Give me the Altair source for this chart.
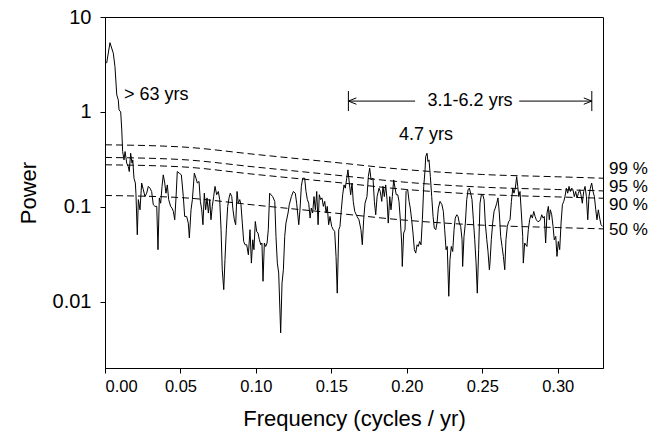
import altair as alt
import pandas as pd

# ---- periodogram (frequency in cycles/yr, power) ----
freq = [
    0.0011, 0.0033, 0.0055, 0.0066, 0.0078, 0.0088, 0.0093, 0.0104, 0.0111, 0.0117,
    0.0126, 0.0133, 0.0144, 0.0154, 0.0161, 0.0170, 0.0179, 0.0184, 0.0192, 0.0201,
    0.0205, 0.0214, 0.0221, 0.0232, 0.0243, 0.0254, 0.0265, 0.0276, 0.0287, 0.0298,
    0.0309, 0.0320, 0.0331, 0.0343, 0.0351, 0.0360, 0.0369, 0.0378, 0.0386, 0.0396,
    0.0404, 0.0413, 0.0422, 0.0435, 0.0444, 0.0453, 0.0462, 0.0471, 0.0479, 0.0492,
    0.0506, 0.0519, 0.0528, 0.0541, 0.0552, 0.0559, 0.0570, 0.0579, 0.0592, 0.0603,
    0.0612, 0.0623, 0.0632, 0.0641, 0.0649, 0.0658, 0.0667, 0.0676, 0.0685, 0.0694,
    0.0702, 0.0711, 0.0720, 0.0729, 0.0740, 0.0751, 0.0760, 0.0769, 0.0777, 0.0787,
    0.0795, 0.0804, 0.0813, 0.0822, 0.0830, 0.0840, 0.0848, 0.0857, 0.0866, 0.0875,
    0.0883, 0.0893, 0.0901, 0.0910, 0.0919, 0.0928, 0.0939, 0.0950, 0.0961, 0.0970,
    0.0979, 0.0987, 0.0996, 0.1005, 0.1014, 0.1023, 0.1032, 0.1040, 0.1047, 0.1056,
    0.1065, 0.1074, 0.1082, 0.1091, 0.1111, 0.1125, 0.1133, 0.1142, 0.1151, 0.1164,
    0.1173, 0.1182, 0.1191, 0.1199, 0.1213, 0.1221, 0.1235, 0.1248, 0.1261, 0.1270,
    0.1284, 0.1292, 0.1301, 0.1310, 0.1323, 0.1332, 0.1341, 0.1350, 0.1359, 0.1367,
    0.1376, 0.1385, 0.1394, 0.1403, 0.1412, 0.1420, 0.1429, 0.1438, 0.1447, 0.1456,
    0.1465, 0.1473, 0.1482, 0.1491, 0.1502, 0.1513, 0.1522, 0.1531, 0.1539, 0.1549,
    0.1557, 0.1566, 0.1575, 0.1584, 0.1592, 0.1602, 0.1610, 0.1619, 0.1628, 0.1637,
    0.1645, 0.1655, 0.1670, 0.1683, 0.1696, 0.1705, 0.1714, 0.1723, 0.1736, 0.1745,
    0.1754, 0.1763, 0.1776, 0.1785, 0.1794, 0.1803, 0.1816, 0.1824, 0.1834, 0.1842,
    0.1851, 0.1860, 0.1869, 0.1877, 0.1887, 0.1895, 0.1904, 0.1913, 0.1922, 0.1930,
    0.1940, 0.1948, 0.1957, 0.1966, 0.1970, 0.1979, 0.1988, 0.1995, 0.2006, 0.2015,
    0.2023, 0.2032, 0.2041, 0.2050, 0.2059, 0.2068, 0.2076, 0.2085, 0.2094, 0.2103,
    0.2112, 0.2121, 0.2125, 0.2134, 0.2140, 0.2147, 0.2156, 0.2165, 0.2174, 0.2182,
    0.2192, 0.2200, 0.2209, 0.2220, 0.2233, 0.2242, 0.2251, 0.2260, 0.2268, 0.2278,
    0.2286, 0.2295, 0.2304, 0.2313, 0.2321, 0.2331, 0.2339, 0.2348, 0.2357, 0.2366,
    0.2370, 0.2379, 0.2388, 0.2397, 0.2406, 0.2414, 0.2423, 0.2432, 0.2441, 0.2450,
    0.2459, 0.2467, 0.2476, 0.2485, 0.2494, 0.2503, 0.2512, 0.2520, 0.2530, 0.2538,
    0.2547, 0.2551, 0.2560, 0.2569, 0.2578, 0.2586, 0.2596, 0.2604, 0.2613, 0.2622,
    0.2631, 0.2640, 0.2649, 0.2657, 0.2666, 0.2675, 0.2684, 0.2693, 0.2702, 0.2710,
    0.2719, 0.2728, 0.2735, 0.2742, 0.2750, 0.2759, 0.2768, 0.2772, 0.2781, 0.2796,
    0.2805, 0.2814, 0.2823, 0.2832, 0.2841, 0.2850, 0.2858, 0.2867, 0.2876, 0.2885,
    0.2894, 0.2903, 0.2911, 0.2920, 0.2929, 0.2938, 0.2944, 0.2951, 0.2960, 0.2969,
    0.2977, 0.2987, 0.2995, 0.3004, 0.3013, 0.3022, 0.3031, 0.3040, 0.3048, 0.3057,
    0.3066, 0.3075, 0.3084, 0.3093, 0.3101, 0.3110, 0.3119, 0.3128, 0.3137, 0.3146,
    0.3154, 0.3163, 0.3172, 0.3181, 0.3190, 0.3199, 0.3207, 0.3216, 0.3225, 0.3234,
    0.3243, 0.3252, 0.3260, 0.3269, 0.3278, 0.3287, 0.3297,
]
power = [
    3.26, 5.36, 4.15, 3.00, 1.51, 1.34, 1.05, 1.00, 0.647, 0.382,
    0.312, 0.382, 0.288, 0.266, 0.235, 0.367, 0.288, 0.312, 0.200, 0.178,
    0.139, 0.0507, 0.119, 0.0929, 0.178, 0.151, 0.128, 0.139, 0.164, 0.157,
    0.145, 0.105, 0.101, 0.101, 0.0353, 0.124, 0.109, 0.164, 0.217, 0.178,
    0.139, 0.170, 0.119, 0.101, 0.0968, 0.0893, 0.0730, 0.128, 0.235, 0.226,
    0.217, 0.128, 0.0791, 0.0791, 0.0673, 0.0470, 0.0929, 0.119, 0.226, 0.200,
    0.178, 0.185, 0.114, 0.0929, 0.0647, 0.139, 0.0929, 0.124, 0.0859, 0.119,
    0.0730, 0.101, 0.128, 0.164, 0.134, 0.145, 0.119, 0.0573, 0.0217, 0.0134,
    0.0277, 0.0573, 0.101, 0.124, 0.139, 0.128, 0.0929, 0.0730, 0.0647, 0.145,
    0.109, 0.119, 0.105, 0.0673, 0.0431, 0.0398, 0.0398, 0.0312, 0.0573, 0.0255,
    0.0449, 0.0353, 0.0700, 0.0550, 0.0528, 0.0449, 0.0398, 0.0415, 0.0164, 0.0415,
    0.0382, 0.0415, 0.0573, 0.139, 0.128, 0.114, 0.0487, 0.0255, 0.0200, 0.00469,
    0.0157, 0.0217, 0.0487, 0.0673, 0.0859, 0.105, 0.128, 0.145, 0.139, 0.109,
    0.0647, 0.0929, 0.164, 0.200, 0.200, 0.145, 0.119, 0.109, 0.0760, 0.0968,
    0.0859, 0.128, 0.0929, 0.145, 0.0647, 0.134, 0.119, 0.124, 0.101, 0.114,
    0.0859, 0.101, 0.0647, 0.0791, 0.0621, 0.0573, 0.0550, 0.0300, 0.0123, 0.0573,
    0.0621, 0.0929, 0.134, 0.170, 0.157, 0.200, 0.245, 0.178, 0.134, 0.178,
    0.114, 0.0893, 0.0791, 0.0730, 0.0573, 0.0398, 0.0730, 0.109, 0.128, 0.208,
    0.255, 0.192, 0.200, 0.114, 0.0824, 0.128, 0.157, 0.145, 0.114, 0.164,
    0.128, 0.170, 0.119, 0.0673, 0.128, 0.0929, 0.128, 0.192, 0.157, 0.134,
    0.134, 0.114, 0.0730, 0.0415, 0.0235, 0.0528, 0.0573, 0.145, 0.151, 0.114,
    0.0968, 0.0730, 0.0528, 0.0353, 0.0325, 0.0398, 0.0382, 0.0431, 0.0398, 0.0730,
    0.164, 0.245, 0.338, 0.367, 0.300, 0.312, 0.208, 0.128, 0.0791, 0.0597,
    0.0573, 0.0673, 0.0968, 0.114, 0.105, 0.0893, 0.0573, 0.0353, 0.0382, 0.0114,
    0.0277, 0.0382, 0.0338, 0.0573, 0.0760, 0.0824, 0.0791, 0.0673, 0.0621, 0.0449,
    0.0235, 0.0487, 0.0673, 0.119, 0.151, 0.157, 0.139, 0.119, 0.0730, 0.0449,
    0.0255, 0.0123, 0.0353, 0.109, 0.134, 0.134, 0.119, 0.0673, 0.0449, 0.0338,
    0.0217, 0.0255, 0.0449, 0.0673, 0.0893, 0.0968, 0.109, 0.124, 0.0859, 0.0487,
    0.0382, 0.0300, 0.0217, 0.0449, 0.0621, 0.0700, 0.0730, 0.114, 0.157, 0.139,
    0.157, 0.208, 0.164, 0.128, 0.145, 0.0859, 0.0487, 0.0255, 0.0415, 0.0382,
    0.0573, 0.0730, 0.0824, 0.0760, 0.0893, 0.0791, 0.0730, 0.0700, 0.0700, 0.0730,
    0.0824, 0.0760, 0.0791, 0.0415, 0.0859, 0.101, 0.0730, 0.0929, 0.0824, 0.0621,
    0.0449, 0.0487, 0.0300, 0.0431, 0.0353, 0.0673, 0.105, 0.114, 0.128, 0.157,
    0.139, 0.164, 0.145, 0.157, 0.151, 0.128, 0.145, 0.124, 0.139, 0.151,
    0.134, 0.109, 0.145, 0.164, 0.128, 0.0730, 0.128, 0.157, 0.178, 0.145,
    0.128, 0.0929, 0.0730, 0.0929, 0.0760, 0.0647, 0.0621,
]

# ---- significance levels (dashed curves) ----
ci_freq = [0.00, 0.05, 0.10, 0.15, 0.20, 0.25, 0.30, 0.33]
ci_50 = [0.1315, 0.125, 0.104, 0.0866, 0.072, 0.064, 0.0604, 0.0585]
ci_90 = [0.277, 0.264, 0.219, 0.183, 0.152, 0.135, 0.127, 0.123]
ci_95 = [0.331, 0.315, 0.262, 0.218, 0.181, 0.161, 0.152, 0.147]
ci_99 = [0.450, 0.428, 0.356, 0.296, 0.246, 0.219, 0.207, 0.200]
ci_names = ["50 %", "90 %", "95 %", "99 %"]
ci_label_power = [0.0573, 0.104, 0.160, 0.251]

# ---- annotations ----
peak_text = ["> 63 yrs", "4.7 yrs"]
peak_text_freq = [0.0126, 1 / 4.7]
peak_text_power = [1.51, 0.57]

band_text = "3.1-6.2 yrs"
band_lo, band_hi = 1 / 6.2, 1 / 3.1
band_gap = [0.2055, 0.2745]
band_power = 1.30
band_bar = [1.02, 1.66]

FONT = "Liberation Sans"

spec_df = pd.DataFrame({"f": freq, "p": power})
ci_rows = []
for name, vals in zip(ci_names, [ci_50, ci_90, ci_95, ci_99]):
    for f, v in zip(ci_freq, vals):
        ci_rows.append({"f": f, "p": v, "level": name})
ci_df = pd.DataFrame(ci_rows)
ci_lab_df = pd.DataFrame({"f": [ci_freq[-1]] * 4, "p": ci_label_power, "t": ci_names})

xs = alt.Scale(domain=[0, 0.33], nice=False, zero=False)
ys = alt.Scale(type="log", domain=[0.002, 10], nice=False)

X = alt.X("f:Q", scale=xs, axis=alt.Axis(
    title="Frequency (cycles / yr)", values=[0, 0.05, 0.10, 0.15, 0.20, 0.25, 0.30],
    format=".2f", grid=False, tickSize=5, labelPadding=5, titlePadding=14,
    labelFontSize=16.5))
Y = alt.Y("p:Q", scale=ys, axis=alt.Axis(
    title="Power", values=[0.01, 0.1, 1, 10], format="~g", grid=False,
    tickSize=5, labelPadding=9, titlePadding=12, labelFontSize=20))

spectrum = alt.Chart(spec_df).mark_line(color="black", strokeWidth=1, clip=True).encode(x=X, y=Y)

ci_lines = alt.Chart(ci_df).mark_line(
    color="black", strokeWidth=1, strokeDash=[7, 4], interpolate="monotone", clip=True
).encode(x="f:Q", y="p:Q", detail="level:N")

ci_labels = alt.Chart(ci_lab_df).mark_text(
    align="left", baseline="middle", dx=6, font=FONT, fontSize=17, color="black"
).encode(x="f:Q", y="p:Q", text="t:N")

peak_left = alt.Chart(pd.DataFrame({"f": [peak_text_freq[0]], "p": [peak_text_power[0]], "t": [peak_text[0]]})
                      ).mark_text(align="left", baseline="middle", font=FONT, fontSize=18, color="black"
                                  ).encode(x="f:Q", y="p:Q", text="t:N")
peak_mid = alt.Chart(pd.DataFrame({"f": [peak_text_freq[1]], "p": [peak_text_power[1]], "t": [peak_text[1]]})
                     ).mark_text(align="center", baseline="middle", font=FONT, fontSize=18, color="black"
                                 ).encode(x="f:Q", y="p:Q", text="t:N")

band_label = alt.Chart(pd.DataFrame({"f": [(band_lo + band_hi) / 2], "p": [band_power], "t": [band_text]})
                       ).mark_text(align="center", baseline="middle", font=FONT, fontSize=18, color="black"
                                   ).encode(x="f:Q", y="p:Q", text="t:N")

band_lines = alt.Chart(pd.DataFrame({
    "f": [band_lo, band_gap[1]], "f2": [band_gap[0], band_hi], "p": [band_power, band_power]
})).mark_rule(color="black", strokeWidth=1).encode(x="f:Q", x2="f2:Q", y="p:Q")

band_bars = alt.Chart(pd.DataFrame({
    "f": [band_lo, band_hi], "p": [band_bar[0]] * 2, "p2": [band_bar[1]] * 2
})).mark_rule(color="black", strokeWidth=1).encode(x="f:Q", y="p:Q", y2="p2:Q")

arrow_r = alt.Chart(pd.DataFrame({"f": [band_hi], "p": [band_power]})).mark_point(
    shape="M-1,-0.4L0,0L-1,0.4", size=256, filled=False, color="black", strokeWidth=1, opacity=1
).encode(x="f:Q", y="p:Q")
arrow_l = alt.Chart(pd.DataFrame({"f": [band_lo], "p": [band_power]})).mark_point(
    shape="M1,-0.4L0,0L1,0.4", size=256, filled=False, color="black", strokeWidth=1, opacity=1
).encode(x="f:Q", y="p:Q")

chart = alt.layer(
    ci_lines, spectrum, ci_labels, peak_left, peak_mid, band_label,
    band_lines, band_bars, arrow_r, arrow_l
).properties(
    width=498, height=351,
    padding={"left": 105, "top": 17, "right": 57, "bottom": 72},
    autosize=alt.AutoSizeParams(type="none"),
    background="white",
).configure_view(
    stroke="black", strokeWidth=1
).configure_axis(
    labelFont=FONT, titleFont=FONT, titleFontSize=22,
    labelColor="black", titleColor="black", domainColor="black", tickColor="black",
    titleFontWeight="normal", domainWidth=1, tickWidth=1,
)

chart.save("out.html", embed_options={"renderer": "svg", "actions": False})
